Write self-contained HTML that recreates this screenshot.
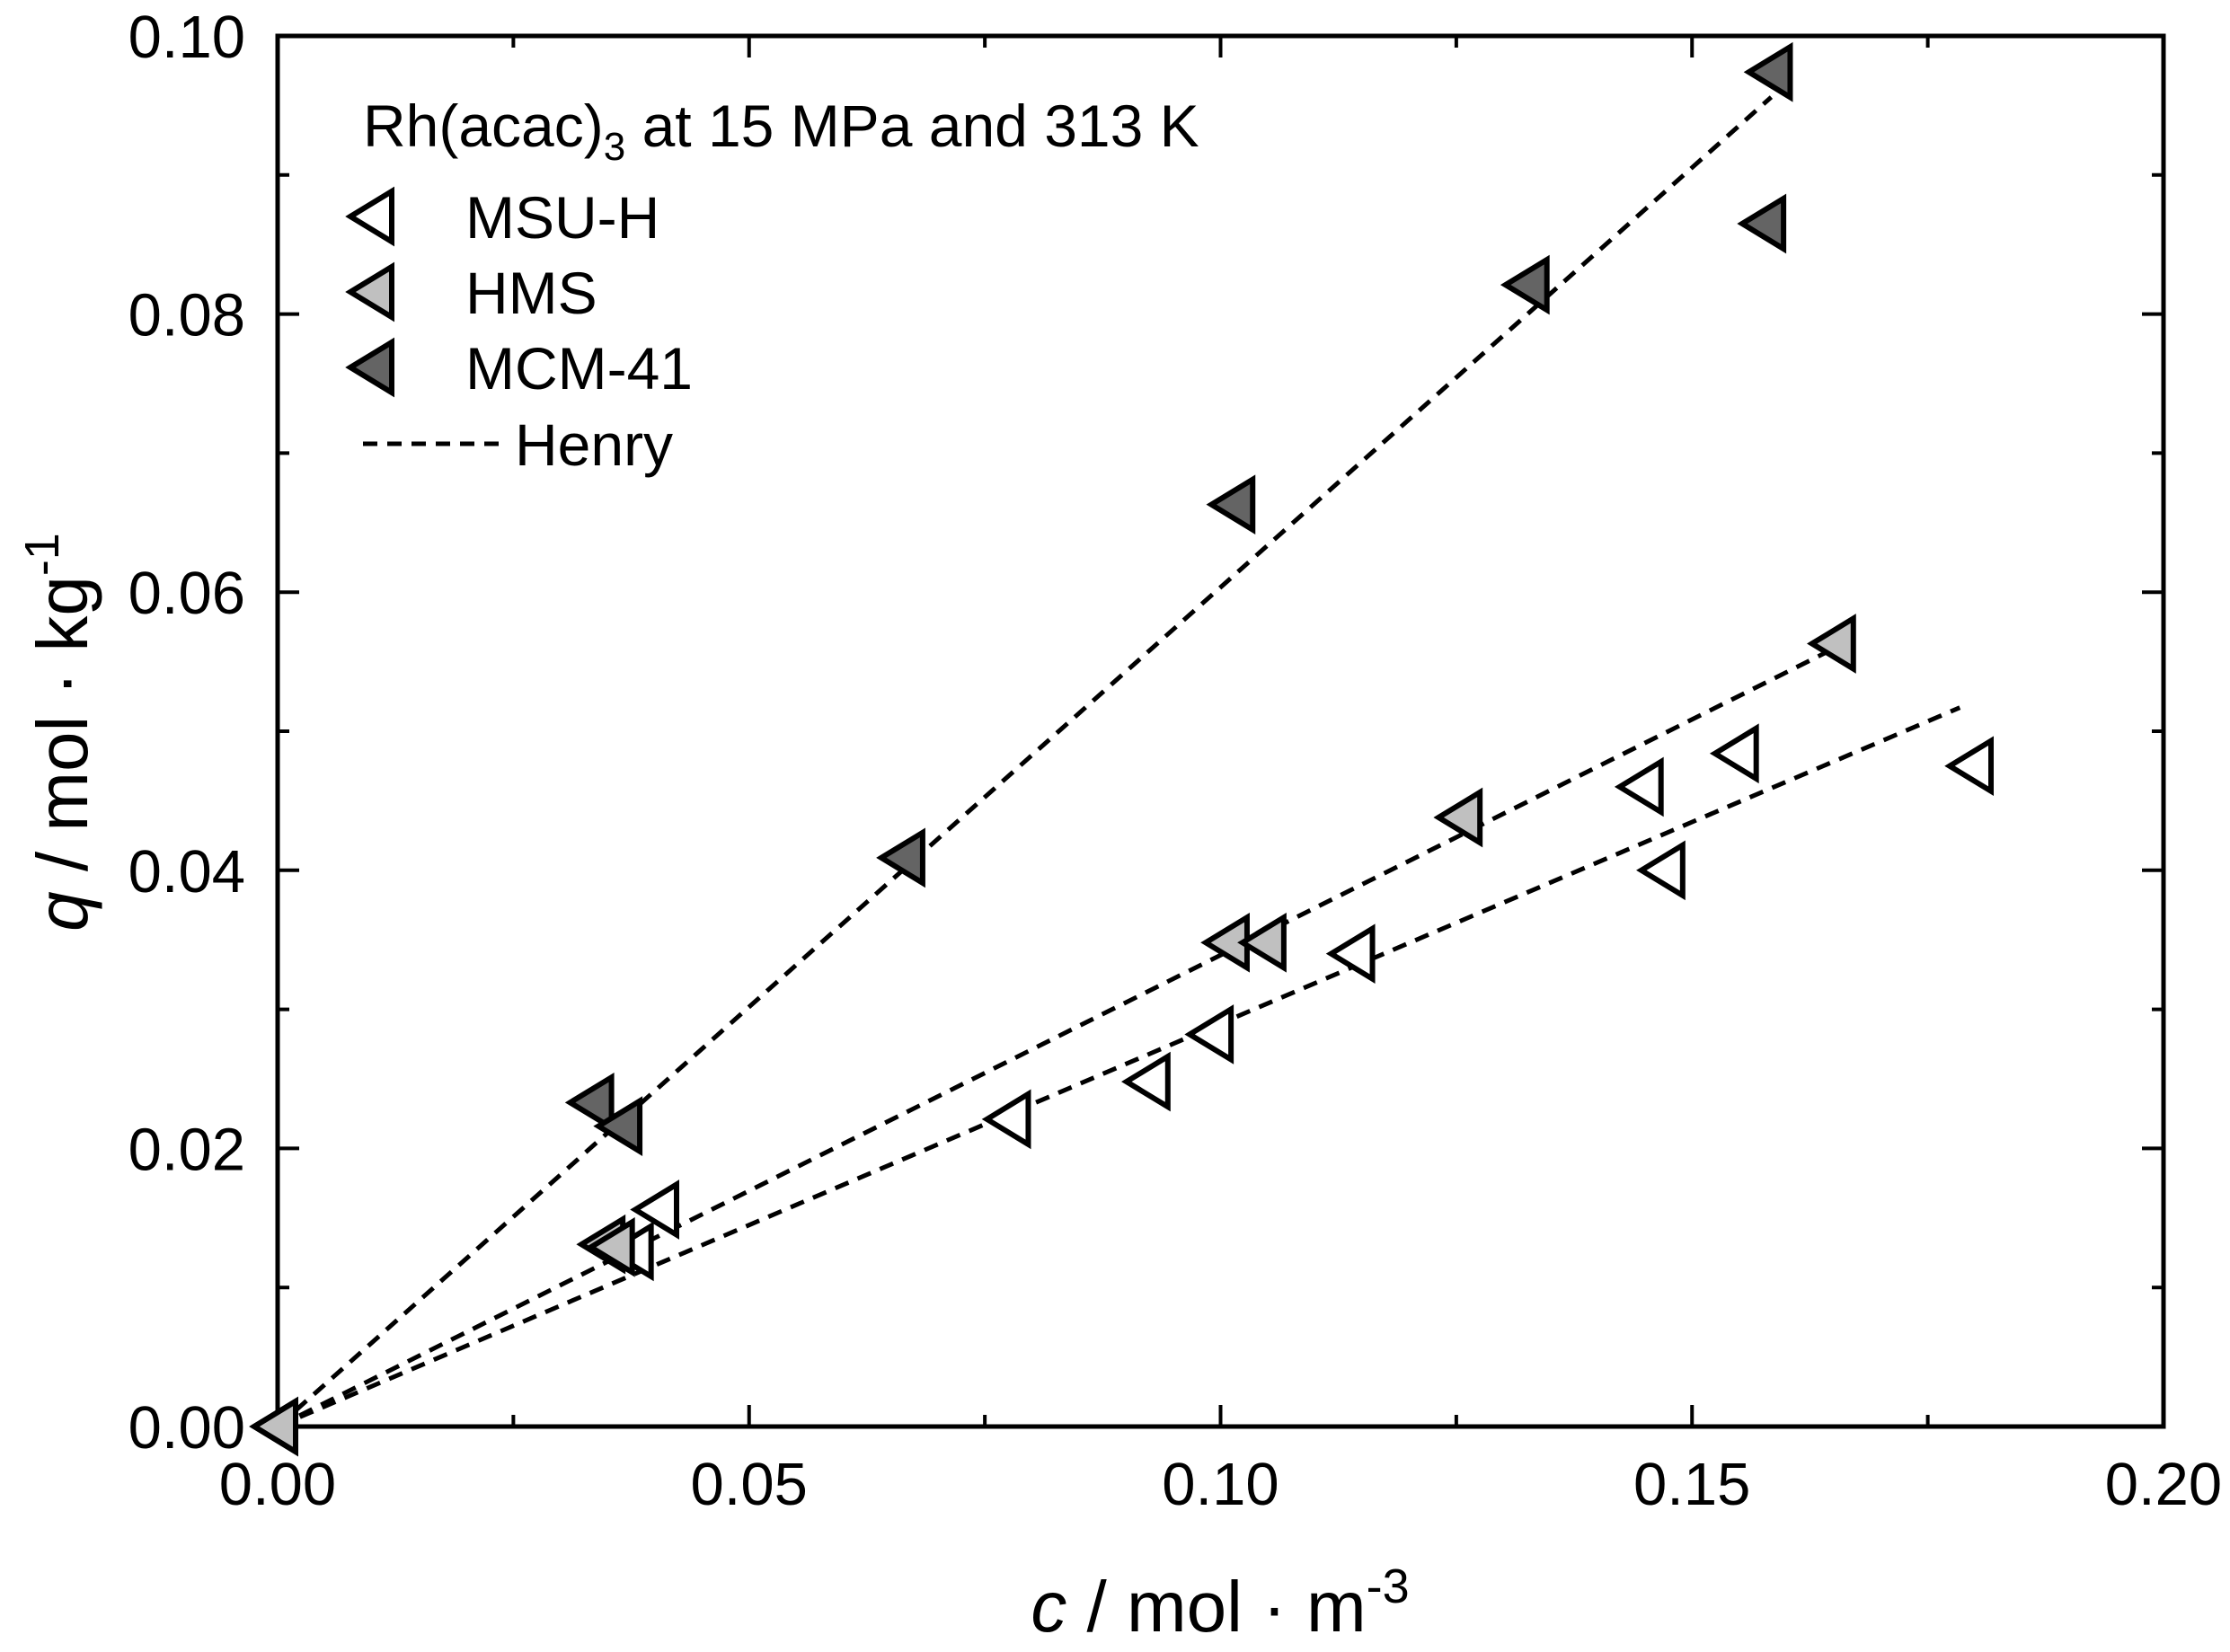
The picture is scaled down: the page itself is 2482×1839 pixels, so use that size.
<!DOCTYPE html>
<html><head><meta charset="utf-8"><style>
html,body{margin:0;padding:0;background:#fff;}
svg{display:block;font-family:"Liberation Sans",Arial,sans-serif;}
</style></head><body>
<svg id="chart" width="2482" height="1839" viewBox="0 0 2482 1839" xmlns="http://www.w3.org/2000/svg">
<g id="grid"></g>
<g id="lines"></g>
<g id="marks"></g>
<g id="legend">
<text x="404" y="163" font-size="66">Rh(acac)<tspan font-size="44" dy="15">3</tspan><tspan dy="-15"> at 15 MPa and 313 K</tspan></text>
</g>
<text x="1358" y="1816" font-size="80" text-anchor="middle"><tspan font-style="italic">c</tspan> / mol · m<tspan font-size="54" dy="-32">-3</tspan></text>
<text transform="translate(97,815) rotate(-90)" font-size="80" text-anchor="middle"><tspan font-style="italic">q</tspan> / mol · kg<tspan font-size="54" dy="-32">-1</tspan></text>
</svg>
<script>
const xTicks=[0,0.05,0.10,0.15,0.20];
const xTickLabels=["0.00","0.05","0.10","0.15","0.20"];
const yTicks=[0,0.02,0.04,0.06,0.08,0.10];
const yTickLabels=["0.00","0.02","0.04","0.06","0.08","0.10"];
const msuX=[0,0.0377,0.0404,0.0777,0.0925,0.0992,0.1142,0.1471,0.1448,0.1549,0.1798];
const msuY=[0,0.0126,0.0156,0.0221,0.0248,0.0282,0.0340,0.0400,0.0460,0.0484,0.0475];
const hmsX=[0.0347,0.0357,0.1009,0.1048,0.1256,0.1652,0];
const hmsY=[0.0131,0.0129,0.0348,0.0348,0.0438,0.0563,0];
const mcmX=[0.0335,0.0365,0.0665,0.1015,0.1327,0.1578,0.1585];
const mcmY=[0.0233,0.0216,0.0409,0.0663,0.0821,0.0865,0.0974];
const henryEndX=[0.1784,0.1652,0.1584];
const henryEndY=[0.0517,0.0560,0.0956];

const NS="http://www.w3.org/2000/svg";
const X0=309,X1=2408,Y0=1588,Y1=40;
function sx(v){return X0+(v/0.2)*(X1-X0);}
function sy(v){return Y0-(v/0.1)*(Y0-Y1);}
function mk(tag,attrs,parent){const e=document.createElementNS(NS,tag);for(const k in attrs)e.setAttribute(k,attrs[k]);parent.appendChild(e);return e;}
const grid=document.getElementById('grid');
let fr=mk('rect',{x:X0,y:Y1,width:X1-X0,height:Y0-Y1,fill:'none',stroke:'#000','stroke-width':5},grid);


for(let i=0;i<xTicks.length;i++){
  const x=sx(xTicks[i]);
  let t=mk('path',{d:`M${x},${Y0}v-24M${x},${Y1}v24`,stroke:'#000','stroke-width':4},grid);
  
  
  let l=mk('text',{x:x,y:1675,'font-size':67,'text-anchor':'middle'},grid);
  l.textContent=xTickLabels[i];
  
  
  if(i<xTicks.length-1){const xm=sx(xTicks[i]+0.025);
    let m=mk('path',{d:`M${xm},${Y0}v-13M${xm},${Y1}v13`,stroke:'#000','stroke-width':4},grid);
    
    }
}
for(let i=0;i<yTicks.length;i++){
  const y=sy(yTicks[i]);
  let t=mk('path',{d:`M${X0},${y}h24M${X1},${y}h-24`,stroke:'#000','stroke-width':4},grid);
  
  
  let l=mk('text',{x:273,y:y+24,'font-size':67,'text-anchor':'end'},grid);
  l.textContent=yTickLabels[i];
  
  
  if(i<yTicks.length-1){const ym=sy(yTicks[i]+0.01);
    let m=mk('path',{d:`M${X0},${ym}h13M${X1},${ym}h-13`,stroke:'#000','stroke-width':4},grid);
    
    }
}
const lines=document.getElementById('lines');
const lnames=['henry-msu-h','henry-hms','henry-mcm-41'];
for(let i=0;i<3;i++){
  let p=mk('line',{x1:sx(0),y1:sy(0),x2:sx(henryEndX[i]),y2:sy(henryEndY[i]),stroke:'#000','stroke-width':5,'stroke-dasharray':'16 11'},lines);
  
  
}
function tri(cx,cy,fill,parent){
  return mk('polygon',{points:`${cx-26},${cy} ${cx+20},${cy-28} ${cx+20},${cy+28}`,fill:fill,stroke:'#000','stroke-width':6,'stroke-linejoin':'miter'},parent);
}
const marks=document.getElementById('marks');
const series=[[msuX,msuY,'#fff','msu-h-point'],[hmsX,hmsY,'#c0c0c0','hms-point'],[mcmX,mcmY,'#646464','mcm-41-point']];
for(const s of series){
  for(let i=0;i<s[0].length;i++){
    let t=tri(sx(s[0][i]),sy(s[1][i]),s[2],marks);
    
    
  }
}
const legend=document.getElementById('legend');
const lg=[['MSU-H','#fff',241],['HMS','#c0c0c0',325],['MCM-41','#646464',409]];
for(const e of lg){
  let t=tri(416,e[2],e[1],legend);
  
  
  let tx=mk('text',{x:518,y:e[2]+24,'font-size':66},legend);
  tx.textContent=e[0];
  
  
}
let hl=mk('line',{x1:404,y1:494,x2:562,y2:494,stroke:'#000','stroke-width':5,'stroke-dasharray':'16 11'},legend);


let ht=mk('text',{x:573,y:518,'font-size':66},legend);
ht.textContent='Henry';


</script>
</body></html>
